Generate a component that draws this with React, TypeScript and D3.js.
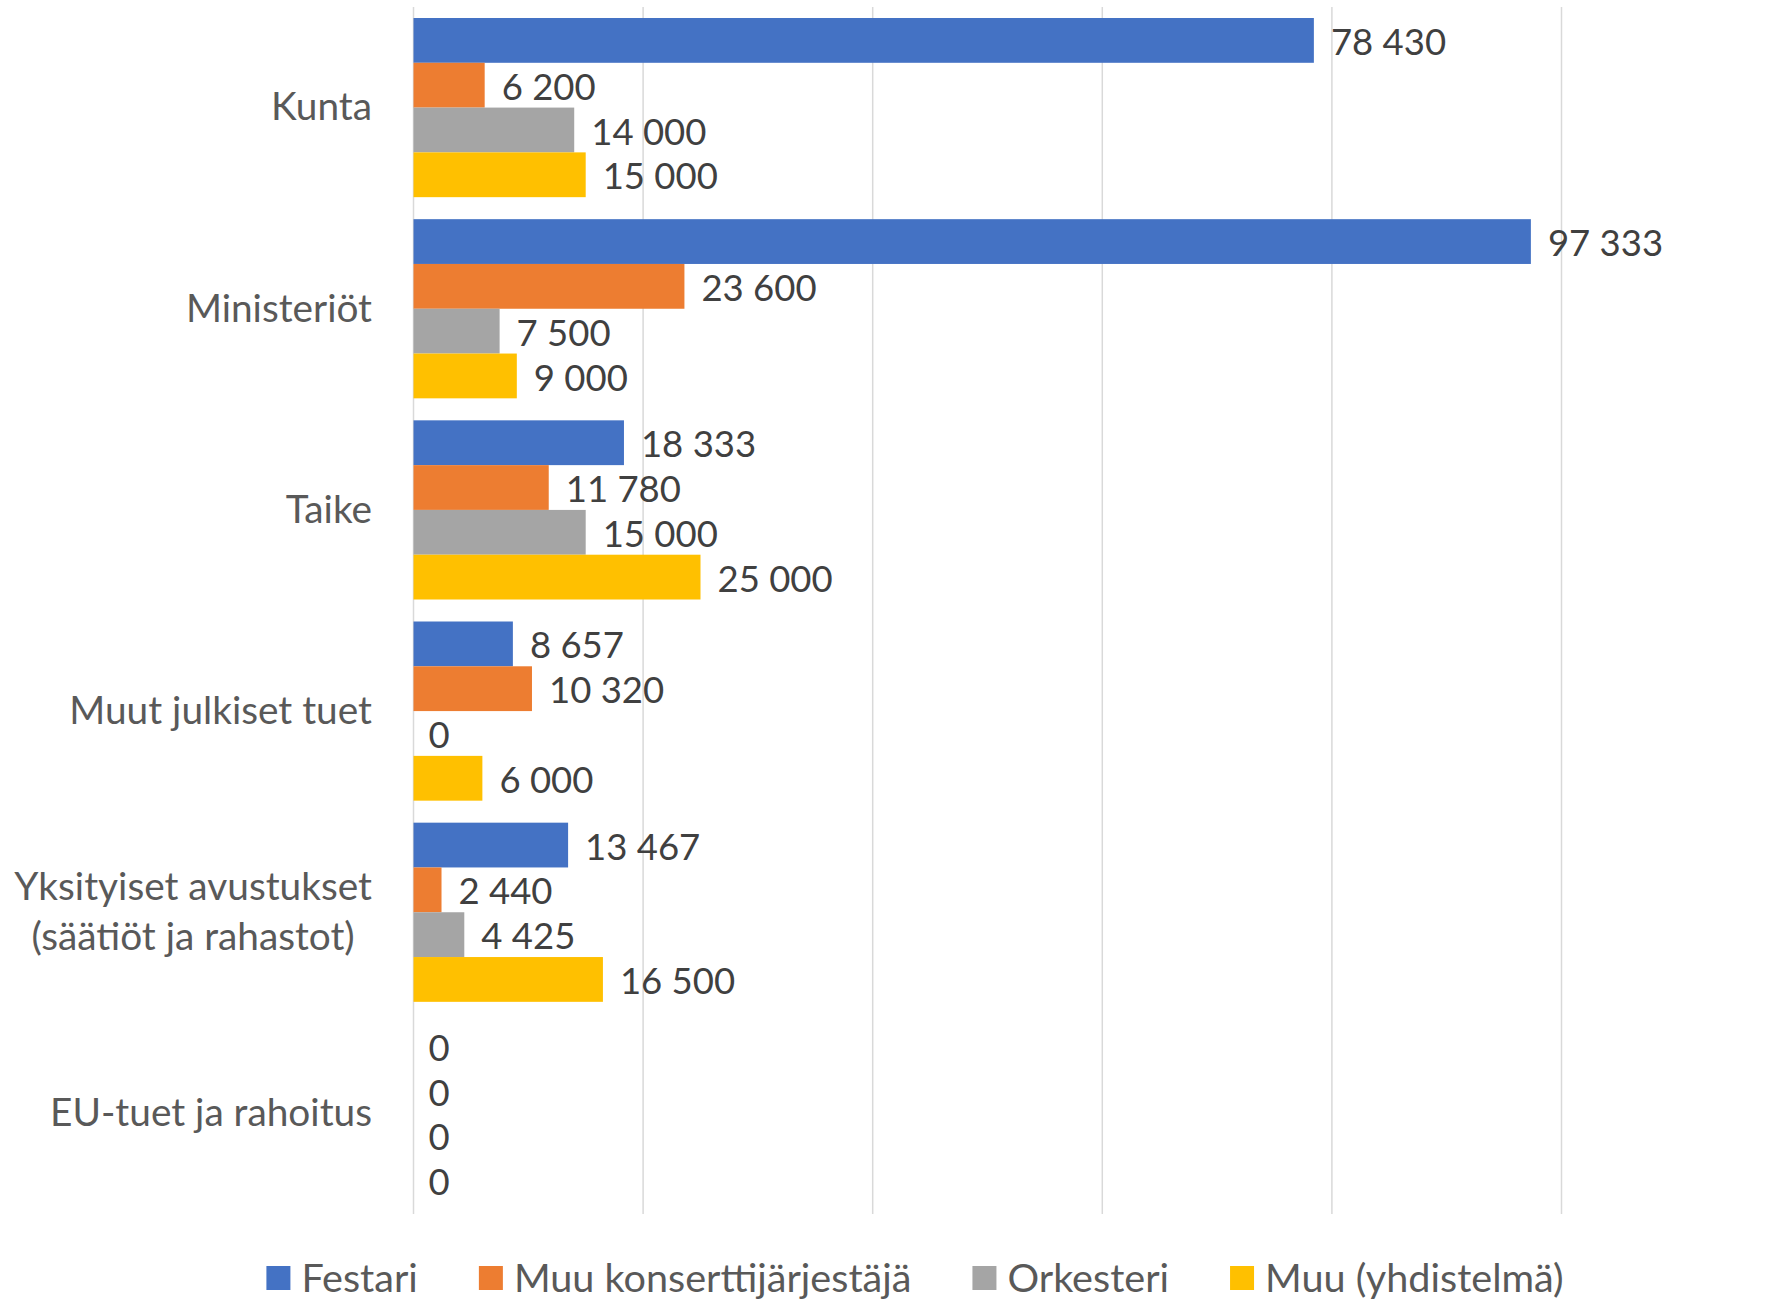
import React, { useEffect, useRef } from "react";
import * as d3 from "d3";

const categories = [
  "Kunta",
  "Ministeriöt",
  "Taike",
  "Muut julkiset tuet",
  "Yksityiset avustukset\n(säätiöt ja rahastot)",
  "EU-tuet ja rahoitus",
];
const seriesNames = ["Festari", "Muu konserttijärjestäjä", "Orkesteri", "Muu (yhdistelmä)"];
const seriesColors = ["#4472C4", "#ED7D31", "#A5A5A5", "#FFC000"];
const festari = [78430, 97333, 18333, 8657, 13467, 0];
const muuKonsertti = [6200, 23600, 11780, 10320, 2440, 0];
const orkesteri = [14000, 7500, 15000, 0, 4425, 0];
const muuYhdistelma = [15000, 9000, 25000, 6000, 16500, 0];
const xTicks = [0, 20000, 40000, 60000, 80000, 100000];

const W = 1767;
const H = 1299;
const FONT = "Lato, 'Open Sans', sans-serif";
const FS = 36.5;
const FS_CAT = 38.8;
const FS_LEG = 39.6;

export default function App() {
  const ref = useRef<SVGSVGElement | null>(null);
  useEffect(() => {
    document.body.style.margin = "0";
    const svg = d3.select(ref.current!);
    svg.selectAll("*").remove();
    const series = [festari, muuKonsertti, orkesteri, muuYhdistelma];
    const x = d3.scaleLinear().domain([0, 100000]).range([413.5, 1561.5]);
    const y0 = d3.scaleBand<string>().domain(categories).range([7, 1214]).padding(0);
    const bw = y0.bandwidth();
    const y1 = d3
      .scaleBand<number>()
      .domain(d3.range(series.length))
      .range([11, bw - 11])
      .padding(0);

    // gridlines
    svg
      .append("g")
      .selectAll("line")
      .data(xTicks)
      .join("line")
      .attr("x1", (d) => x(d))
      .attr("x2", (d) => x(d))
      .attr("y1", 7)
      .attr("y2", 1214)
      .attr("stroke", "#d9d9d9")
      .attr("stroke-width", 1.5);

    const fmt = (v: number) => d3.format(",")(v).replace(/,/g, " ");

    categories.forEach((cat, ci) => {
      const g = svg.append("g").attr("transform", `translate(0,${y0(cat)})`);
      series.forEach((vals, si) => {
        const v = vals[ci];
        const yy = y1(si)!;
        if (v > 0) {
          g.append("rect")
            .attr("x", x(0))
            .attr("y", yy)
            .attr("width", x(v) - x(0))
            .attr("height", y1.bandwidth())
            .attr("fill", seriesColors[si]);
        }
        g.append("text")
          .attr("x", x(v) + (v > 0 ? 17 : 15))
          .attr("y", yy + y1.bandwidth() / 2)
          .attr("dy", "0.4em")
          .attr("font-family", FONT)
          .attr("font-size", FS)
          .attr("fill", "#404040")
          .text(fmt(v));
      });
    });

    // category labels
    const labelRight = 372;
    categories.forEach((cat) => {
      const lines = cat.split("\n");
      const cy = y0(cat)! + bw / 2;
      const lh = 50;
      const tg = svg.append("g");
      const texts = lines.map((ln, i) =>
        tg
          .append("text")
          .attr("y", cy + (i - (lines.length - 1) / 2) * lh)
          .attr("dy", "0.33em")
          .attr("font-family", FONT)
          .attr("font-size", FS_CAT)
          .attr("fill", "#595959")
          .attr("text-anchor", "middle")
          .text(ln)
      );
      const widths = texts.map((t) => (t.node() as SVGTextElement).getComputedTextLength());
      const maxW = Math.max(...widths);
      texts.forEach((t) => t.attr("x", labelRight - maxW / 2));
    });

    // legend
    const lg = svg.append("g");
    const items = seriesNames.map((name, i) => {
      const ig = lg.append("g");
      ig.append("rect").attr("x", 0).attr("y", -12).attr("width", 24).attr("height", 24).attr("fill", seriesColors[i]);
      const t = ig
        .append("text")
        .attr("x", 35)
        .attr("y", 0)
        .attr("dy", "0.36em")
        .attr("font-family", FONT)
        .attr("font-size", FS_LEG)
        .attr("fill", "#595959")
        .text(name);
      const w = 35 + (t.node() as SVGTextElement).getComputedTextLength();
      return { ig, w };
    });
    const gap = 61;
    const total = d3.sum(items, (d) => d.w) + gap * (items.length - 1);
    let cx = 915 - total / 2;
    items.forEach((it) => {
      it.ig.attr("transform", `translate(${cx},1278)`);
      cx += it.w + gap;
    });
  }, []);
  return <svg ref={ref} width={W} height={H} style={{ display: "block", background: "#fff" }} />;
}
